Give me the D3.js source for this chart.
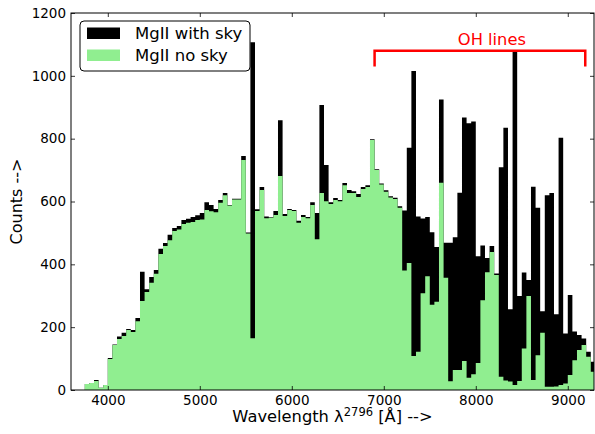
<!DOCTYPE html>
<html>
<head>
<meta charset="utf-8">
<script src="https://cdn.jsdelivr.net/npm/d3@7"></script>
<style>
  body { margin: 0; background: #fff; }
  svg { font-family: "DejaVu Sans", sans-serif; }
</style>
</head>
<body>
<script>
// histogram bins: 50 A wide, first bin starts at 3750 A
var binStart = 3750, binWidth = 50;

// counts per bin, MgII with sky lines
var withSky = [
  19, 22, 32, 7, 16, 102, 145, 170, 182, 194,
  191, 229, 376, 321, 360, 382, 450, 468, 494, 516,
  522, 541, 545, 551, 556, 563, 598, 589, 576, 605,
  627, 589, 609, 609, 745, 501, 1107, 575, 646, 552,
  550, 570, 859, 560, 576, 573, 539, 557, 551, 598,
  563, 907, 716, 598, 611, 605, 659, 637, 633, 624,
  646, 652, 798, 703, 657, 636, 617, 612, 585, 571,
  771, 1015, 552, 546, 551, 502, 455, 925, 469, 469,
  486, 628, 867, 849, 855, 426, 460, 420, 458, 371,
  709, 835, 257, 1077, 299, 374, 350, 647, 580, 251,
  620, 627, 241, 803, 180, 302, 186, 175, 164, 122,
  90
];

// counts per bin, MgII after removing sky
var noSky = [
  19, 22, 29, 7, 16, 99, 143, 162, 172, 191,
  185, 219, 283, 312, 341, 370, 433, 458, 477, 506,
  511, 528, 532, 535, 541, 543, 573, 569, 566, 596,
  620, 587, 606, 606, 732, 498, 165, 570, 637, 547,
  548, 557, 681, 554, 573, 570, 532, 551, 547, 589,
  480, 627, 601, 592, 605, 601, 652, 627, 627, 614,
  640, 646, 796, 700, 654, 631, 613, 608, 580, 380,
  404, 108, 122, 308, 362, 271, 281, 660, 357, 28,
  64, 64, 92, 39, 50, 86, 286, 375, 439, 366,
  42, 30, 27, 16, 29, 132, 299, 32, 111, 182,
  10, 10, 11, 16, 21, 48, 95, 127, 143, 106,
  58
];

var xTicks = [4000, 5000, 6000, 7000, 8000, 9000];
var yTicks = [0, 200, 400, 600, 800, 1000, 1200];

// OH lines bracket, data coords
var ohStart = 6900, ohEnd = 9190, ohTop = 1080, ohFoot = 1030;
var ohLabelX = 8175;

var W = 595, H = 434;
var margin = {left: 71, right: 1, top: 13, bottom: 44};
var iw = W - margin.left - margin.right,
    ih = H - margin.top - margin.bottom;

var svg = d3.select("body").append("svg")
  .attr("width", W).attr("height", H);

var g = svg.append("g")
  .attr("transform", "translate(" + margin.left + "," + margin.top + ")");

var x = d3.scaleLinear().domain([3600, 9285]).range([0, iw]);
var y = d3.scaleLinear().domain([0, 1200]).range([ih, 0]);

g.append("clipPath").attr("id", "clip")
  .append("rect").attr("width", iw).attr("height", ih);

// step outline: each bin gives a point at its left edge, plus one closing point
function steps(vals) {
  var pts = vals.map(function(v, i) { return [binStart + i * binWidth, v]; });
  pts.push([binStart + vals.length * binWidth, vals[vals.length - 1]]);
  return pts;
}

var area = d3.area()
  .curve(d3.curveStepAfter)
  .x(function(d) { return x(d[0]); })
  .y0(y(0))
  .y1(function(d) { return y(d[1]); });

var plot = g.append("g").attr("clip-path", "url(#clip)");

plot.append("path")
  .attr("d", area(steps(withSky)))
  .attr("fill", "#000");

plot.append("path")
  .attr("d", area(steps(noSky)))
  .attr("fill", "#90ee90");

// axes, ticks pointing inwards like matplotlib classic
var xb = g.append("g").attr("transform", "translate(0," + ih + ")")
  .call(d3.axisBottom(x).tickValues(xTicks).tickSize(-4).tickPadding(5).tickFormat(d3.format("d")));
var xt = g.append("g")
  .call(d3.axisTop(x).tickValues(xTicks).tickSize(-4).tickFormat(""));
var yl = g.append("g")
  .call(d3.axisLeft(y).tickValues(yTicks).tickSize(-4).tickPadding(5).tickFormat(d3.format("d")));
var yr = g.append("g").attr("transform", "translate(" + iw + ",0)")
  .call(d3.axisRight(y).tickValues(yTicks).tickSize(-4).tickFormat(""));

[xb, xt, yl, yr].forEach(function(a) {
  a.select(".domain").remove();
  a.selectAll(".tick line").attr("stroke", "#000").attr("stroke-width", 0.8);
  a.selectAll("text").attr("font-size", 13.5).attr("fill", "#000")
    .attr("font-family", "DejaVu Sans");
});

g.append("rect")
  .attr("width", iw).attr("height", ih)
  .attr("fill", "none").attr("stroke", "#000").attr("stroke-width", 1);

// OH lines bracket
g.append("path")
  .attr("d", d3.line()([
    [x(ohStart), y(ohFoot)], [x(ohStart), y(ohTop)],
    [x(ohEnd), y(ohTop)], [x(ohEnd), y(ohFoot)]
  ]))
  .attr("fill", "none").attr("stroke", "#ff0000").attr("stroke-width", 2.5);

g.append("text")
  .attr("x", x(ohLabelX)).attr("y", y(ohTop) - 6)
  .attr("text-anchor", "middle")
  .attr("font-size", 16.3).attr("fill", "#ff0000")
  .text("OH lines");

// legend
var leg = g.append("g").attr("transform", "translate(9,8)");
leg.append("rect")
  .attr("width", 170).attr("height", 50).attr("rx", 4)
  .attr("fill", "#fff").attr("stroke", "#000").attr("stroke-width", 1);
var items = [["MgII with sky", "#000"], ["MgII no sky", "#90ee90"]];
items.forEach(function(it, i) {
  leg.append("rect")
    .attr("x", 7).attr("y", 6.5 + i * 22)
    .attr("width", 33).attr("height", 11.5)
    .attr("fill", it[1]);
  leg.append("text")
    .attr("x", 55).attr("y", 18 + i * 22)
    .attr("font-size", 16.5).attr("fill", "#000")
    .text(it[0]);
});

// axis titles
var xl = svg.append("text")
  .attr("x", margin.left + iw / 2).attr("y", 422)
  .attr("text-anchor", "middle")
  .attr("font-size", 16.3).attr("fill", "#000");
xl.append("tspan").text("Wavelength \u03bb");
xl.append("tspan").attr("font-size", 11.5).attr("dy", -6.5).text("2796");
xl.append("tspan").attr("dy", 6.5).text(" [\u00c5] -->");

svg.append("text")
  .attr("transform", "translate(21.5," + (margin.top + ih / 2) + ") rotate(-90)")
  .attr("text-anchor", "middle")
  .attr("font-size", 16).attr("fill", "#000")
  .text("Counts -->");
</script>
</body>
</html>
